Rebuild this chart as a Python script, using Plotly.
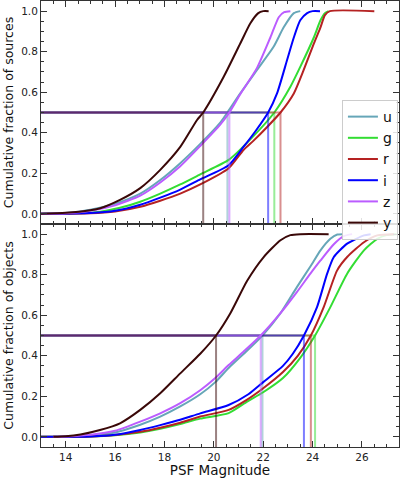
import plotly.graph_objects as go
from plotly.subplots import make_subplots

bands = ["u", "g", "r", "i", "z", "y"]
colors = {"u": "#66a6b8", "g": "#33dd33", "r": "#b52222", "i": "#0000ff", "z": "#bb5cff", "y": "#3a0808"}

# Top panel (sources): magnitude / cumulative fraction
top_x = {
    "u": [13, 14, 15, 16, 17.02, 17.83, 18.64, 19.45, 20.26, 20.55, 21.07, 21.75, 22.42, 22.83, 23.24, 23.5],
    "g": [13, 14, 15, 15.4, 16.2, 17.02, 17.83, 18.64, 19.45, 20.6, 21.5, 22.45, 23.1, 23.5, 24.05, 24.32, 24.5, 24.65],
    "r": [13, 15, 16, 17.02, 17.83, 18.64, 19.45, 20.6, 21.2, 21.6, 22.17, 22.7, 23.24, 23.64, 24.05, 24.32, 24.5, 24.7, 26.5],
    "i": [13, 15, 16, 17.02, 17.83, 18.64, 19.45, 20.6, 21.2, 21.7, 22.2, 22.56, 22.97, 23.24, 23.5, 23.78, 24.0, 24.3],
    "z": [13, 14, 15, 16, 17.02, 17.83, 18.64, 19.45, 20.26, 20.63, 21.07, 21.75, 22.29, 22.63, 22.85, 23.1],
    "y": [13, 14, 15, 15.4, 16.2, 17.02, 17.83, 18.64, 19.32, 19.57, 20.4, 21.07, 21.48, 21.8, 22.0, 22.22],
}
top_f = {
    "u": [0, 0.004, 0.02, 0.05, 0.10, 0.167, 0.25, 0.345, 0.45, 0.5, 0.594, 0.71, 0.824, 0.92, 0.99, 1.0],
    "g": [0, 0.002, 0.006, 0.011, 0.03, 0.06, 0.1, 0.145, 0.195, 0.266, 0.37, 0.5, 0.627, 0.725, 0.87, 0.955, 0.99, 1.0],
    "r": [0, 0.003, 0.012, 0.035, 0.065, 0.1, 0.145, 0.225, 0.315, 0.36, 0.43, 0.5, 0.594, 0.71, 0.84, 0.92, 0.98, 1.0, 1.0],
    "i": [0, 0.004, 0.015, 0.045, 0.08, 0.12, 0.17, 0.24, 0.33, 0.41, 0.5, 0.594, 0.76, 0.87, 0.955, 0.99, 1.0, 1.0],
    "z": [0, 0.003, 0.015, 0.042, 0.09, 0.155, 0.235, 0.335, 0.44, 0.5, 0.59, 0.72, 0.87, 0.97, 0.995, 1.0],
    "y": [0, 0.005, 0.018, 0.028, 0.069, 0.127, 0.217, 0.33, 0.463, 0.5, 0.676, 0.84, 0.94, 0.99, 1.0, 1.0],
}
top_median = {"u": 20.55, "g": 22.45, "r": 22.7, "i": 22.2, "z": 20.63, "y": 19.57}

# Bottom panel (objects)
bot_x = {
    "u": [13.5, 14, 15, 16, 17.02, 17.83, 18.64, 19.45, 20.06, 20.6, 21.3, 21.97, 22.7, 23.37, 23.91, 24.32, 24.72, 25.0, 25.2],
    "g": [13, 15, 16, 17.02, 17.83, 18.64, 19.45, 20.6, 21.35, 22.0, 22.8, 23.5, 24.1, 24.72, 25.4, 26.08, 26.62, 27.0, 27.4],
    "r": [13, 15, 16, 17.02, 17.83, 18.64, 19.45, 20.6, 21.3, 22.0, 22.8, 23.4, 23.93, 24.45, 24.99, 25.4, 26.08, 26.62, 27.3],
    "i": [13, 15, 16, 17.02, 17.83, 18.64, 19.45, 20.6, 21.4, 22.0, 22.8, 23.2, 23.65, 24.18, 24.59, 24.86, 25.4, 26.08, 26.35],
    "z": [13.5, 14, 15, 16, 17.02, 17.83, 18.64, 19.45, 20.06, 20.6, 21.2, 21.9, 22.7, 23.37, 23.91, 24.32, 24.86, 25.26, 25.6],
    "y": [13.5, 14, 14.6, 15.39, 16.2, 17.02, 17.83, 18.64, 19.45, 20.09, 20.67, 21.35, 22.02, 22.7, 23.1, 23.5, 24.65],
}
bot_f = {
    "u": [0, 0.001, 0.007, 0.022, 0.06, 0.1, 0.15, 0.21, 0.27, 0.34, 0.42, 0.5, 0.61, 0.74, 0.84, 0.92, 0.977, 0.998, 1.0],
    "g": [0, 0.002, 0.008, 0.022, 0.04, 0.063, 0.09, 0.117, 0.174, 0.22, 0.29, 0.39, 0.5, 0.64, 0.805, 0.92, 0.977, 0.995, 1.0],
    "r": [0, 0.002, 0.009, 0.025, 0.045, 0.07, 0.10, 0.133, 0.18, 0.24, 0.32, 0.4, 0.5, 0.64, 0.82, 0.887, 0.96, 0.994, 1.0],
    "i": [0, 0.002, 0.01, 0.034, 0.058, 0.084, 0.116, 0.157, 0.21, 0.27, 0.35, 0.41, 0.5, 0.64, 0.805, 0.887, 0.953, 0.994, 1.0],
    "z": [0, 0.002, 0.01, 0.03, 0.075, 0.116, 0.166, 0.23, 0.29, 0.354, 0.42, 0.5, 0.61, 0.715, 0.805, 0.87, 0.95, 0.99, 1.0],
    "y": [0, 0.003, 0.012, 0.034, 0.067, 0.133, 0.215, 0.313, 0.41, 0.5, 0.61, 0.77, 0.887, 0.97, 0.995, 1.0, 1.0],
}
bot_median = {"u": 21.97, "g": 24.1, "r": 23.93, "i": 23.65, "z": 21.9, "y": 20.09}

XMIN, XMAX = 13, 27.5
YMIN, YMAX = -0.05, 1.05

fig = make_subplots(rows=2, cols=1, shared_xaxes=True, vertical_spacing=0)

for row, xs, fs, med in [(1, top_x, top_f, top_median), (2, bot_x, bot_f, bot_median)]:
    for b in bands:
        fig.add_trace(go.Scatter(x=xs[b], y=fs[b], mode="lines", name=b,
                                 line=dict(color=colors[b], width=2, shape="spline", smoothing=0.6),
                                 showlegend=(row == 1), legendgroup=b),
                      row=row, col=1)
        fig.add_trace(go.Scatter(x=[XMIN, med[b], med[b]], y=[0.5, 0.5, YMIN], mode="lines",
                                 line=dict(color=colors[b], width=2), opacity=0.5,
                                 showlegend=False, hoverinfo="skip"),
                      row=row, col=1)

tickfont = dict(family="DejaVu Sans", size=10.5, color="#222")
axcommon = dict(showline=True, linecolor="#333", linewidth=1, mirror="ticks",
                ticks="inside", ticklen=6, tickcolor="#333", tickwidth=1,
                showgrid=False, zeroline=False, tickfont=tickfont)

for r in (1, 2):
    fig.update_xaxes(range=[XMIN, XMAX], dtick=2, tick0=0,
                     minor=dict(ticks="inside", dtick=0.5, tick0=0, ticklen=3, tickcolor="#333", showgrid=False),
                     row=r, col=1, **axcommon)
    fig.update_yaxes(range=[YMIN, YMAX], dtick=0.2, tick0=0, tickformat=".1f",
                     minor=dict(ticks="inside", dtick=0.05, tick0=0, ticklen=3, tickcolor="#333", showgrid=False),
                     row=r, col=1, **axcommon)

fig.update_xaxes(showticklabels=False, row=1, col=1)
fig.update_xaxes(title=dict(text="PSF Magnitude", font=dict(family="DejaVu Sans", size=13.5, color="#111"), standoff=2),
                 row=2, col=1)
fig.update_yaxes(title=dict(text="Cumulative fraction of sources", font=dict(family="DejaVu Sans", size=12.5, color="#111"), standoff=4),
                 row=1, col=1)
fig.update_yaxes(title=dict(text="Cumulative fraction of objects", font=dict(family="DejaVu Sans", size=12.5, color="#111"), standoff=4),
                 row=2, col=1)

fig.update_layout(
    width=400, height=478,
    margin=dict(l=41, r=1, t=1, b=31),
    paper_bgcolor="white", plot_bgcolor="white",
    legend=dict(x=0.997, y=0.778, xanchor="right", yanchor="top",
                bgcolor="rgba(255,255,255,0.85)", bordercolor="#ccc", borderwidth=1,
                font=dict(family="DejaVu Sans", size=14, color="#111"),
                tracegroupgap=0, itemwidth=30),
    showlegend=True,
)

fig.write_html("out.html")
